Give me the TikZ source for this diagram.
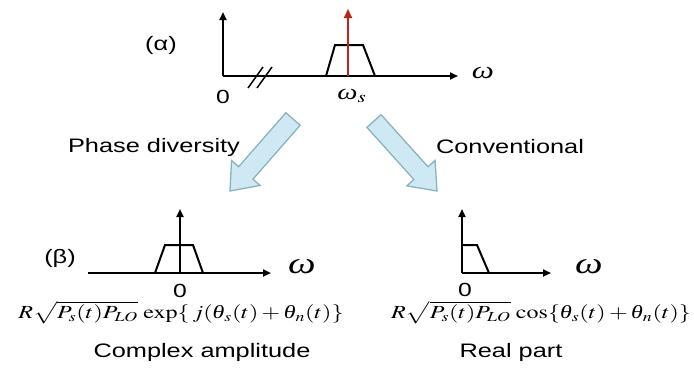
\documentclass[tikz,border=0pt]{standalone}
\usepackage{mathptmx}
\usepackage[no-math]{fontspec}
\setmainfont{Liberation Sans}
\newfontfamily\serifgr{Liberation Serif}
\usepackage{graphicx}
\usetikzlibrary{arrows.meta,calc}
\definecolor{sigred}{RGB}{190,35,25}
\definecolor{arrfill}{RGB}{206,233,243}
\definecolor{arrdraw}{RGB}{140,178,190}
\newcommand{\sx}[1]{\scalebox{1.3}[1]{#1}}
\newcommand{\fsz}[1]{\fontsize{#1}{#1}\selectfont}
\newcommand{\gom}{\mbox{\serifgr\itshape ω}}
\newcommand{\gth}{\mbox{\serifgr\itshape θ}}
\tikzset{
  axis/.style={line width=2pt,-{Triangle[length=8pt,width=7pt]}},
  spec/.style={line width=2pt,line join=miter},
  lbl/.style={inner sep=0pt,font=\fsz{19.5}},
  zero/.style={inner sep=0pt,font=\fsz{19}},
  barrow/.style={fill=arrfill,draw=arrdraw,line width=1.3pt,line join=miter}
}
\newcommand{\blockarrow}[2]{%
  \coordinate (#1b) at ($(#2)!24pt!(#1)$);
  \draw[barrow] ($(#1)!9.5pt!90:(#2)$) -- ($(#1)!9.5pt!-90:(#2)$)
     -- ($(#1b)!9.5pt!-90:(#2)$) -- ($(#1b)!19pt!-90:(#2)$) -- (#2)
     -- ($(#1b)!19pt!90:(#2)$) -- ($(#1b)!9.5pt!90:(#2)$) -- cycle;}
\begin{document}
\begin{tikzpicture}[x=1pt,y=-1pt]
\useasboundingbox (0,0) rectangle (694,383);
% ---- top spectrum (alpha)
\coordinate (o1) at (223,76);
\coordinate (y1) at (223,12);
\coordinate (x1) at (458,76);
\draw[axis] (o1) -- (y1);
\draw[axis] (o1) -- (x1);
\draw[line width=1.5pt] (248,88) -- (263,67);
\draw[line width=1.5pt] (257,88) -- (272,67);
\draw[spec] (326,76) -- (335,45) -- (363,45) -- (375,76);
\coordinate (rs) at (348,76);
\coordinate (re) at (348,9);
\draw[line width=2pt,sigred,-{Triangle[length=9pt,width=8pt]}] (rs) -- (re);
\node[lbl] (alpha) at (161,45) {\sx{(α)}};
\node[zero] (z1) at (223,97) {\sx{0}};
\node[inner sep=0pt] (ws) at (352,96) {\sx{\fsz{22}$\gom_s$}};
\node[inner sep=0pt] (w1) at (483,73) {\sx{\fsz{24}\gom}};
% ---- arrows
\coordinate (ta) at (293,119);
\coordinate (pa) at (230,191);
\coordinate (tb) at (374,121);
\coordinate (pb) at (437,191);
\blockarrow{ta}{pa}
\blockarrow{tb}{pb}
\node[lbl] (pd) at (154,147) {\sx{Phase diversity}};
\node[lbl] (cv) at (510,147) {\sx{Conventional}};
% ---- bottom left (beta)
\coordinate (o2) at (180,273);
\draw[axis] (88,273) -- (271,273);
\draw[axis] (o2) -- (180,209);
\draw[spec] (155,273) -- (165,245) -- (193,245) -- (203,273);
\node[lbl] (beta) at (60,258) {\sx{(β)}};
\node[zero] (z2) at (180,291) {\sx{0}};
\node[inner sep=0pt] (w2) at (302,267) {\sx{\fsz{30}\gom}};
\node[inner sep=0pt] (f1) at (181,313) {\sx{\fsz{18.5}$R\sqrt{P_s(t)P_{LO}}\,\exp\{\,j(\gth_s(t)+\gth_n(t)\}$}};
\node[lbl] (ca) at (202,352) {\sx{Complex amplitude}};
% ---- bottom right
\coordinate (o3) at (462,273);
\draw[axis] (o3) -- (551,273);
\draw[axis] (o3) -- (462,209);
\draw[spec] (462,245) -- (477,245) -- (489,273);
\node[zero] (z3) at (465,290) {\sx{0}};
\node[inner sep=0pt] (w3) at (589,267) {\sx{\fsz{30}\gom}};
\node[inner sep=0pt] (f2) at (541,313) {\sx{\fsz{18.5}$R\sqrt{P_s(t)P_{LO}}\,\cos\{\gth_s(t)+\gth_n(t)\}$}};
\node[lbl] (rp) at (511,352) {\sx{Real part}};
\end{tikzpicture}
\end{document}
